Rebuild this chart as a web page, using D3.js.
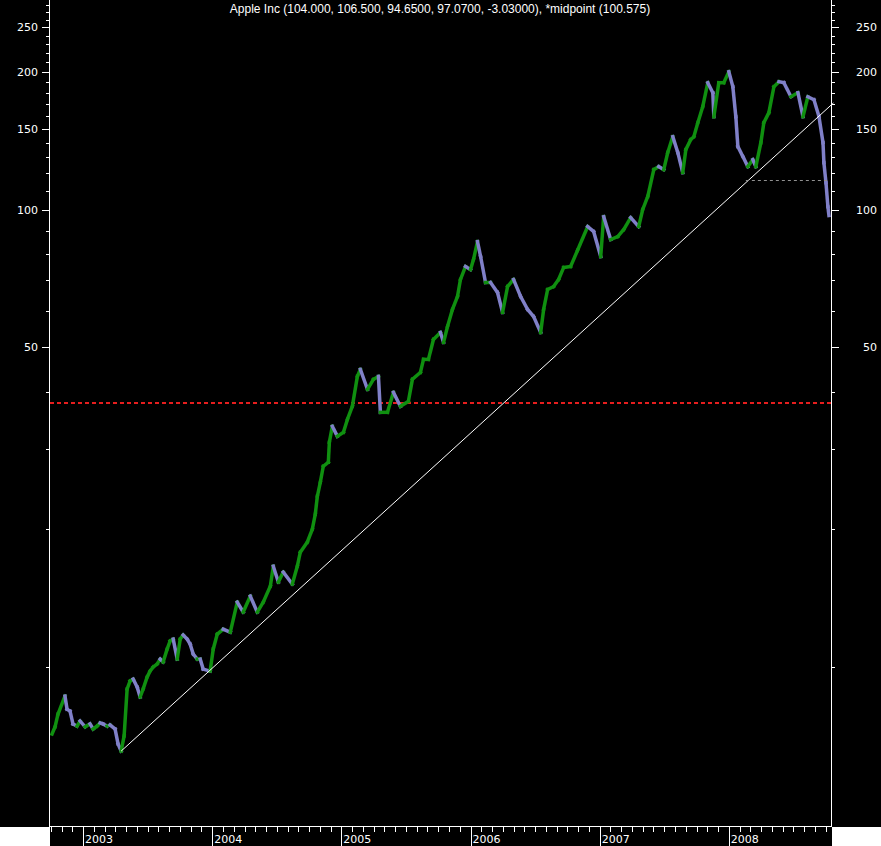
<!DOCTYPE html>
<html><head><meta charset="utf-8">
<script src="https://cdn.jsdelivr.net/npm/d3@7"></script>
<style>body{margin:0;background:#000}svg{display:block}</style>
</head><body>
<script>
const title = "Apple Inc (104.000, 106.500, 94.6500, 97.0700, -3.03000), *midpoint (100.575)";
const dates = [2002.760,2002.783,2002.806,2002.860,2002.876,2002.899,2002.922,2002.953,2002.977,2003.016,2003.054,2003.078,2003.109,2003.132,2003.155,2003.186,2003.209,2003.248,2003.271,2003.295,2003.318,2003.341,2003.364,2003.388,2003.419,2003.442,2003.465,2003.496,2003.519,2003.543,2003.574,2003.597,2003.620,2003.651,2003.674,2003.698,2003.729,2003.752,2003.775,2003.806,2003.829,2003.853,2003.884,2003.907,2003.930,2003.984,2004.008,2004.039,
2004.085,2004.140,2004.194,2004.240,2004.295,2004.349,2004.395,2004.450,2004.473,2004.512,2004.550,2004.620,2004.659,2004.682,2004.736,2004.775,2004.798,2004.814,2004.837,2004.860,2004.899,2004.907,2004.930,2004.969,2005.016,2005.047,2005.085,2005.124,2005.147,2005.202,2005.248,2005.287,2005.302,2005.357,2005.403,2005.457,2005.519,2005.550,2005.612,2005.636,2005.674,2005.713,2005.767,2005.791,2005.822,2005.860,2005.899,2005.922,2005.961,2006.000,2006.023,
2006.054,2006.078,2006.116,2006.155,2006.209,2006.248,2006.287,2006.333,2006.388,2006.442,2006.488,2006.543,2006.566,2006.597,2006.643,2006.682,2006.721,2006.775,2006.829,2006.907,2006.953,2007.008,2007.031,2007.085,2007.140,2007.186,2007.240,2007.302,2007.333,2007.372,2007.419,2007.457,2007.496,2007.527,2007.566,2007.605,2007.643,2007.667,2007.705,2007.729,2007.760,2007.798,2007.837,2007.876,2007.884,2007.922,2007.961,2008.000,2008.031,2008.054,2008.070,2008.109,2008.147,2008.186,2008.209,2008.248,2008.271,2008.310,2008.349,2008.388,2008.426,2008.481,2008.535,2008.574,2008.612,2008.659,2008.698,2008.729,2008.736,2008.752,2008.767,2008.775];
const closes = [7.15,7.41,7.90,8.65,8.10,8.02,7.52,7.44,7.63,7.41,7.52,7.33,7.44,7.56,7.52,7.44,7.48,7.33,6.80,6.56,7.08,8.96,9.33,9.42,9.05,8.61,8.96,9.52,9.81,10.01,10.17,10.42,10.27,10.96,11.41,11.52,10.42,11.52,11.76,11.52,11.24,10.69,10.42,10.42,9.91,9.81,10.96,11.81,
12.11,11.93,13.88,13.20,14.30,13.20,13.88,15.04,16.63,15.35,16.14,15.20,16.63,17.84,18.76,20.03,21.60,23.64,25.36,27.49,28.05,31.01,33.62,31.96,32.61,34.81,37.16,43.21,44.75,40.47,42.56,43.21,36.06,36.06,39.87,37.16,38.11,42.56,44.09,47.06,47.06,52.04,53.90,51.26,55.55,60.50,64.59,70.34,75.10,73.96,77.78,
85.13,78.97,69.29,69.29,65.90,59.60,67.91,70.34,64.59,60.50,58.40,53.90,60.50,66.90,67.91,70.34,74.74,75.10,81.50,91.81,89.53,78.97,96.54,86.00,87.31,90.44,96.06,91.81,100.00,106.75,122.27,124.12,122.27,133.17,144.32,133.17,120.43,135.19,142.16,144.32,154.84,167.80,189.31,180.03,159.57,189.31,189.31,200.07,185.54,159.57,137.24,130.51,124.12,128.57,124.12,140.03,154.84,162.81,185.54,190.26,189.31,176.43,180.03,159.57,176.43,173.81,159.57,140.03,126.64,114.53,101.52,97.07];
const majorTicks = [50,100,150,200,250];
const minorTicks = [10,20,30,40,60,70,80,90,110,120,130,140,160,170,180,190,210,220,230,240,260,270,280];
const years = [2003,2004,2005,2006,2007,2008];
const trendDates = [2003.295, 2008.81];
const trendValues = [6.56, 171];
const supportLevel = 116.3, supportDates = [2008.132, 2008.775];
const redLevel = 37.7;

const W=881,H=846, L=50, R=831, T=0, B=826;
const svg = d3.select("body").append("svg").attr("width",W).attr("height",H).style("background","#000");
const x = d3.scaleLinear().domain([2002.744, 2008.791]).range([L, 831]);
const y = d3.scaleLog().domain([4.5, 287]).range([B, T]);

svg.append("rect").attr("x",0).attr("y",B+1).attr("width",L).attr("height",H-B).attr("fill","#fff");
svg.append("rect").attr("x",R+1).attr("y",B+1).attr("width",W-R).attr("height",H-B).attr("fill","#fff");

const g = svg.append("g");
// red dashed level
const ry = Math.round(y(redLevel));
g.append("line").attr("x1",L).attr("x2",R).attr("y1",ry).attr("y2",ry)
 .attr("stroke","rgb(230,30,30)").attr("stroke-width",2).attr("stroke-dasharray","4,3");
// price segments
for(let i=1;i<dates.length;i++){
  const up = closes[i]>=closes[i-1];
  g.append("line").attr("x1",x(dates[i-1])).attr("y1",y(closes[i-1])).attr("x2",x(dates[i])).attr("y2",y(closes[i]))
   .attr("stroke", up?"#109010":"#8080c8").attr("stroke-width",3.5).attr("stroke-linecap","square");
}
// trend line
g.append("line").attr("x1",x(trendDates[0])).attr("y1",y(trendValues[0])).attr("x2",x(trendDates[1])).attr("y2",y(trendValues[1]))
 .attr("stroke","#fff").attr("stroke-width",1);
g.append("line").attr("x1",x(supportDates[0])).attr("x2",x(supportDates[1])).attr("y1",Math.round(y(supportLevel))+0.5).attr("y2",Math.round(y(supportLevel))+0.5)
 .attr("stroke","#909090").attr("stroke-dasharray","3,3");

// axes
const ax = svg.append("g").attr("stroke","#fff").attr("stroke-width",1).attr("shape-rendering","crispEdges");
ax.append("line").attr("x1",L-0.5).attr("x2",L-0.5).attr("y1",0).attr("y2",B+1);
ax.append("line").attr("x1",R+0.5).attr("x2",R+0.5).attr("y1",0).attr("y2",B+1);
ax.append("line").attr("x1",L).attr("x2",R+1).attr("y1",B+0.5).attr("y2",B+0.5);
const tickY = v=>Math.round(y(v))+0.5;
minorTicks.forEach(v=>{
  ax.append("line").attr("x1",L-4).attr("x2",L).attr("y1",tickY(v)).attr("y2",tickY(v));
  ax.append("line").attr("x1",R).attr("x2",R+4).attr("y1",tickY(v)).attr("y2",tickY(v));
});
majorTicks.forEach(v=>{
  ax.append("line").attr("x1",L-8).attr("x2",L).attr("y1",tickY(v)).attr("y2",tickY(v));
  ax.append("line").attr("x1",R).attr("x2",R+8).attr("y1",tickY(v)).attr("y2",tickY(v));
  svg.append("text").attr("x",38).attr("y",y(v)+4).attr("text-anchor","end").attr("fill","#fff")
    .attr("font-family","DejaVu Sans, sans-serif").attr("font-size",11).text(v);
  svg.append("text").attr("x",877).attr("y",y(v)+4).attr("text-anchor","end").attr("fill","#fff")
    .attr("font-family","DejaVu Sans, sans-serif").attr("font-size",11).text(v);
});
// month ticks
for(let yr=2002; yr<=2008; yr++){
  for(let m=0;m<12;m++){
    const d = yr + m/12; const px = Math.round(x(d))+0.5;
    if(px<L||px>R) continue;
    if(m===0){
      ax.append("line").attr("x1",px).attr("x2",px).attr("y1",B).attr("y2",H);
    } else {
      ax.append("line").attr("x1",px).attr("x2",px).attr("y1",B).attr("y2",B+6);
    }
  }
}
years.forEach(yr=>{
  svg.append("text").attr("x",x(yr)+2).attr("y",843).attr("fill","#fff")
   .attr("font-family","DejaVu Sans, sans-serif").attr("font-size",11).text(yr);
});
svg.append("text").attr("x",440).attr("y",13).attr("text-anchor","middle").attr("fill","#fff")
  .attr("font-family","Liberation Sans, Arial, sans-serif").attr("font-size",12).text(title);
</script>
</body></html>
